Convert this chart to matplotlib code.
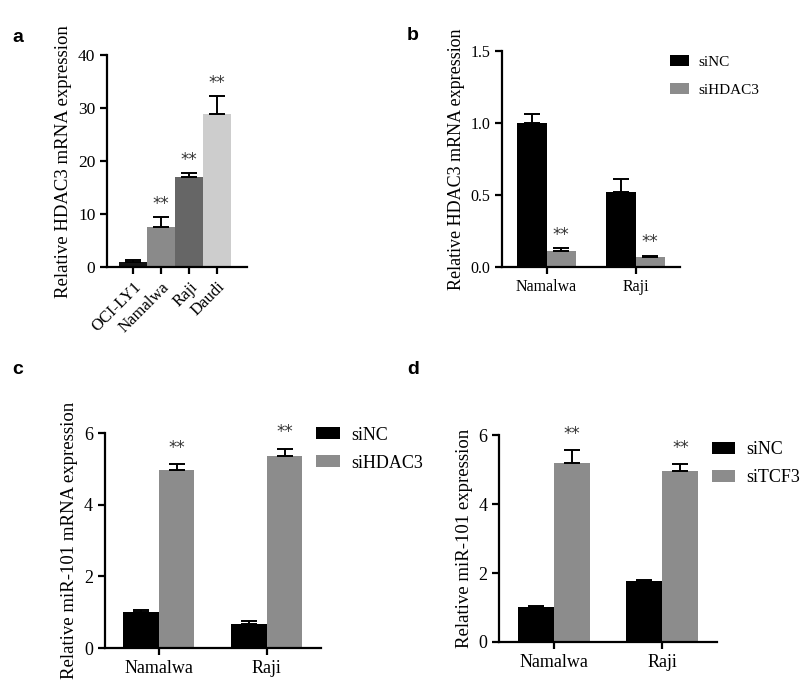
import matplotlib
matplotlib.use("Agg")
import matplotlib.pyplot as plt
import numpy as np

# panel a
lines_a = ["OCI-LY1", "Namalwa", "Raji", "Daudi"]
vals_a = [1.0, 7.6, 17.1, 28.8]
err_a = [0.3, 1.9, 0.7, 3.4]
sig_a = ["", "**", "**", "**"]
cols_a = ["#141414", "#8a8a8a", "#666666", "#cdcdcd"]

# panels b-d
cells = ["Namalwa", "Raji"]
b_nc = [1.0, 0.52]
b_nc_err = [0.06, 0.09]
b_si = [0.11, 0.07]
b_si_err = [0.02, 0.01]

c_nc = [1.0, 0.68]
c_nc_err = [0.05, 0.07]
c_si = [4.98, 5.35]
c_si_err = [0.15, 0.22]

d_nc = [1.0, 1.76]
d_nc_err = [0.03, 0.04]
d_si = [5.2, 4.97]
d_si_err = [0.38, 0.2]

plt.rcParams['font.family'] = ['Liberation Serif', 'DejaVu Serif']
plt.rcParams['axes.linewidth'] = 1.6
plt.rcParams['xtick.major.width'] = 1.6
plt.rcParams['ytick.major.width'] = 1.6
plt.rcParams['xtick.major.size'] = 5
plt.rcParams['ytick.major.size'] = 5

fig = plt.figure(figsize=(8, 6.8), dpi=100)

def style(ax):
    ax.spines['top'].set_visible(False)
    ax.spines['right'].set_visible(False)

def stars(ax, x, top, off, fs):
    ax.text(x, top + off, "**", ha="center", va="bottom", fontsize=fs,
            family="DejaVu Sans", color="#333333")

# ---- a ----
ax = fig.add_axes([0.134, 0.607, 0.175, 0.312])
x = np.arange(len(lines_a))
ax.bar(x, vals_a, width=1.0, color=cols_a)
ax.errorbar(x, vals_a, yerr=[np.zeros(4), err_a], fmt="none", ecolor="black",
            elinewidth=1.4, capsize=6, capthick=1.4)
for i in range(4):
    if sig_a[i]:
        stars(ax, x[i], vals_a[i] + err_a[i], 0.8, 12)
ax.set_xlim(-0.93, 4.07)
ax.set_ylim(0, 40)
ax.set_yticks([0, 10, 20, 30, 40])
ax.set_xticks(x)
ax.set_xticklabels(lines_a, rotation=45, ha="right", rotation_mode="anchor", fontsize=12)
ax.tick_params(axis="y", labelsize=12.5)
ax.set_ylabel("Relative HDAC3 mRNA expression", fontsize=13.5, labelpad=4)
style(ax)

def grouped(rect, nc, nc_err, si, si_err, ylim, yticks, ylabel, lab2, fs, yfs, lfs, soff,
            legpos, hl, ls):
    ax = fig.add_axes(rect)
    x = np.arange(len(cells))
    w = 0.33
    ax.bar(x - w / 2, nc, width=w, color="black", label="siNC")
    ax.bar(x + w / 2, si, width=w, color="#8c8c8c", label=lab2)
    ax.errorbar(x - w / 2, nc, yerr=[np.zeros(2), nc_err], fmt="none", ecolor="black",
                elinewidth=1.4, capsize=6, capthick=1.4)
    ax.errorbar(x + w / 2, si, yerr=[np.zeros(2), si_err], fmt="none", ecolor="black",
                elinewidth=1.4, capsize=6, capthick=1.4)
    for i in range(2):
        stars(ax, x[i] + w / 2, si[i] + si_err[i], soff, 12)
    ax.set_xlim(-0.5, 1.5)
    ax.set_ylim(*ylim)
    ax.set_yticks(yticks)
    ax.set_xticks(x)
    ax.set_xticklabels(cells, fontsize=fs)
    ax.tick_params(axis="y", labelsize=fs)
    ax.set_ylabel(ylabel, fontsize=yfs, labelpad=4)
    style(ax)
    ax.legend(loc="upper left", bbox_to_anchor=legpos, frameon=False, fontsize=lfs,
              handlelength=hl, handleheight=0.65, handletextpad=0.6, labelspacing=ls,
              borderaxespad=0, borderpad=0)
    return ax

ax_b = grouped([0.6275, 0.607, 0.2225, 0.318], b_nc, b_nc_err, b_si, b_si_err,
               (0, 1.5), [0.0, 0.5, 1.0, 1.5], "Relative HDAC3 mRNA expression",
               "siHDAC3", 11.5, 13, 11, 0.03, (0.944, 0.98), 1.25, 0.95)
ax_b.set_yticklabels(["0.0", "0.5", "1.0", "1.5"])

grouped([0.131, 0.047, 0.27, 0.316], c_nc, c_nc_err, c_si, c_si_err,
        (0, 6), [0, 2, 4, 6], "Relative miR-101 mRNA expression",
        "siHDAC3", 13, 13.5, 13, 0.2, (0.98, 1.03), 1.3, 0.6)

grouped([0.624, 0.056, 0.272, 0.304], d_nc, d_nc_err, d_si, d_si_err,
        (0, 6), [0, 2, 4, 6], "Relative miR-101 expression",
        "siTCF3", 13, 13.5, 13, 0.2, (0.977, 0.97), 1.3, 0.6)

for lab, px, py in [("a", 12, 38), ("b", 407, 36), ("c", 12, 370), ("d", 407, 370)]:
    fig.text(px / 800, 1 - py / 680, lab, fontsize=14, fontweight="bold",
             family="Liberation Sans", ha="left", va="center")

fig.savefig("out.png", dpi=100)
